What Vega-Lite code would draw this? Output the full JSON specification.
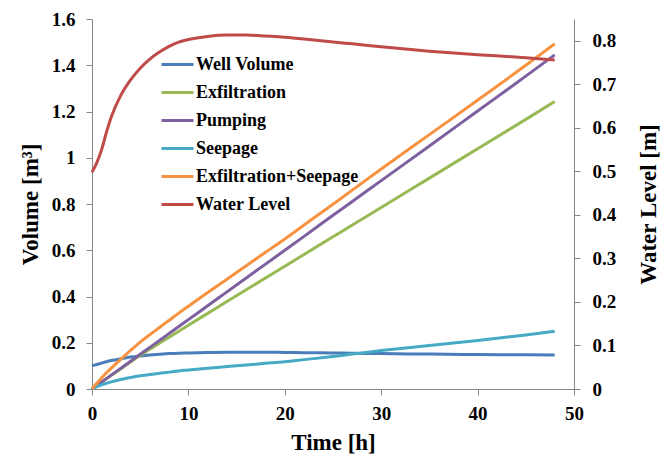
{
  "$schema": "https://vega.github.io/schema/vega-lite/v6.json",
  "width": 482,
  "height": 370,
  "autosize": {"type": "none"},
  "padding": {"left": 92, "top": 19, "right": 95, "bottom": 72},
  "background": "white",
  "config": {
    "view": {"stroke": null},
    "font": "Liberation Serif",
    "axis": {
      "grid": false,
      "domainColor": "#868686",
      "tickColor": "#868686",
      "tickSize": 6,
      "labelFont": "Liberation Serif",
      "labelFontWeight": "bold",
      "labelFontSize": 19,
      "labelColor": "black",
      "titleFont": "Liberation Serif",
      "titleFontWeight": "bold",
      "titleFontSize": 23,
      "titleColor": "black"
    },
    "legend": {
      "labelFont": "Liberation Serif",
      "labelFontWeight": "bold",
      "labelFontSize": 18,
      "labelColor": "black",
      "labelLimit": 400,
      "padding": 0
    }
  },
  "data": {
    "values": [
      {"t": 0, "Well Volume": 0.100, "Exfiltration": 0.000, "Pumping": 0.000, "Seepage": 0.000, "Exfiltration+Seepage": 0.000, "Water Level": 0.498},
      {"t": 0.5, "Well Volume": 0.106, "Exfiltration": 0.015, "Pumping": 0.015, "Seepage": 0.010, "Exfiltration+Seepage": 0.025, "Water Level": 0.520},
      {"t": 1, "Well Volume": 0.112, "Exfiltration": 0.030, "Pumping": 0.030, "Seepage": 0.018, "Exfiltration+Seepage": 0.048, "Water Level": 0.550},
      {"t": 1.5, "Well Volume": 0.118, "Exfiltration": 0.045, "Pumping": 0.045, "Seepage": 0.025, "Exfiltration+Seepage": 0.070, "Water Level": 0.590},
      {"t": 2, "Well Volume": 0.123, "Exfiltration": 0.059, "Pumping": 0.060, "Seepage": 0.031, "Exfiltration+Seepage": 0.090, "Water Level": 0.625},
      {"t": 3, "Well Volume": 0.131, "Exfiltration": 0.088, "Pumping": 0.090, "Seepage": 0.041, "Exfiltration+Seepage": 0.129, "Water Level": 0.675},
      {"t": 4, "Well Volume": 0.138, "Exfiltration": 0.117, "Pumping": 0.120, "Seepage": 0.050, "Exfiltration+Seepage": 0.167, "Water Level": 0.710},
      {"t": 5, "Well Volume": 0.143, "Exfiltration": 0.146, "Pumping": 0.150, "Seepage": 0.057, "Exfiltration+Seepage": 0.203, "Water Level": 0.737},
      {"t": 6, "Well Volume": 0.147, "Exfiltration": 0.172, "Pumping": 0.180, "Seepage": 0.063, "Exfiltration+Seepage": 0.235, "Water Level": 0.758},
      {"t": 7, "Well Volume": 0.150, "Exfiltration": 0.198, "Pumping": 0.210, "Seepage": 0.068, "Exfiltration+Seepage": 0.266, "Water Level": 0.774},
      {"t": 8, "Well Volume": 0.153, "Exfiltration": 0.224, "Pumping": 0.240, "Seepage": 0.073, "Exfiltration+Seepage": 0.297, "Water Level": 0.787},
      {"t": 9, "Well Volume": 0.155, "Exfiltration": 0.250, "Pumping": 0.270, "Seepage": 0.078, "Exfiltration+Seepage": 0.328, "Water Level": 0.797},
      {"t": 10, "Well Volume": 0.156, "Exfiltration": 0.276, "Pumping": 0.300, "Seepage": 0.082, "Exfiltration+Seepage": 0.358, "Water Level": 0.803},
      {"t": 12, "Well Volume": 0.158, "Exfiltration": 0.327, "Pumping": 0.360, "Seepage": 0.090, "Exfiltration+Seepage": 0.417, "Water Level": 0.810},
      {"t": 14, "Well Volume": 0.159, "Exfiltration": 0.378, "Pumping": 0.420, "Seepage": 0.097, "Exfiltration+Seepage": 0.475, "Water Level": 0.813},
      {"t": 16, "Well Volume": 0.159, "Exfiltration": 0.429, "Pumping": 0.480, "Seepage": 0.104, "Exfiltration+Seepage": 0.533, "Water Level": 0.813},
      {"t": 18, "Well Volume": 0.159, "Exfiltration": 0.480, "Pumping": 0.540, "Seepage": 0.111, "Exfiltration+Seepage": 0.591, "Water Level": 0.811},
      {"t": 20, "Well Volume": 0.158, "Exfiltration": 0.531, "Pumping": 0.600, "Seepage": 0.118, "Exfiltration+Seepage": 0.649, "Water Level": 0.808},
      {"t": 22, "Well Volume": 0.157, "Exfiltration": 0.582, "Pumping": 0.660, "Seepage": 0.127, "Exfiltration+Seepage": 0.709, "Water Level": 0.804},
      {"t": 25, "Well Volume": 0.156, "Exfiltration": 0.658, "Pumping": 0.751, "Seepage": 0.141, "Exfiltration+Seepage": 0.799, "Water Level": 0.797},
      {"t": 27, "Well Volume": 0.155, "Exfiltration": 0.709, "Pumping": 0.811, "Seepage": 0.151, "Exfiltration+Seepage": 0.860, "Water Level": 0.793},
      {"t": 30, "Well Volume": 0.153, "Exfiltration": 0.785, "Pumping": 0.901, "Seepage": 0.166, "Exfiltration+Seepage": 0.951, "Water Level": 0.786},
      {"t": 35, "Well Volume": 0.151, "Exfiltration": 0.912, "Pumping": 1.051, "Seepage": 0.188, "Exfiltration+Seepage": 1.100, "Water Level": 0.776},
      {"t": 40, "Well Volume": 0.149, "Exfiltration": 1.039, "Pumping": 1.202, "Seepage": 0.210, "Exfiltration+Seepage": 1.249, "Water Level": 0.768},
      {"t": 45, "Well Volume": 0.148, "Exfiltration": 1.166, "Pumping": 1.353, "Seepage": 0.234, "Exfiltration+Seepage": 1.400, "Water Level": 0.761},
      {"t": 48, "Well Volume": 0.147, "Exfiltration": 1.243, "Pumping": 1.445, "Seepage": 0.250, "Exfiltration+Seepage": 1.493, "Water Level": 0.756}
    ]
  },
  "layer": [
    {
      "transform": [
        {"fold": ["Well Volume", "Exfiltration", "Pumping", "Seepage", "Exfiltration+Seepage"], "as": ["series", "v"]}
      ],
      "mark": {"type": "line", "strokeWidth": 3, "interpolate": "monotone"},
      "encoding": {
        "x": {
          "field": "t", "type": "quantitative",
          "scale": {"domain": [0, 50], "nice": false},
          "axis": {"values": [0, 10, 20, 30, 40, 50], "title": "Time [h]", "labelFont": "Liberation Serif", "labelFontWeight": "bold", "labelFontSize": 19, "labelPadding": 9, "titlePadding": 8, "labelFlush": false}
        },
        "y": {
          "field": "v", "type": "quantitative",
          "scale": {"domain": [0, 1.6], "nice": false},
          "axis": {"orient": "left", "values": [0, 0.2, 0.4, 0.6, 0.8, 1, 1.2, 1.4, 1.6], "format": "~g", "title": "Volume [m³]", "labelFont": "Liberation Serif", "labelFontWeight": "bold", "labelFontSize": 19, "labelPadding": 11, "titlePadding": 9, "labelFlush": false}
        },
        "color": {
          "field": "series", "type": "nominal",
          "scale": {
            "domain": ["Well Volume", "Exfiltration", "Pumping", "Seepage", "Exfiltration+Seepage", "Water Level"],
            "range": ["#4A7EBB", "#98B954", "#7D60A0", "#46AAC5", "#F69240", "#BE4B48"]
          },
          "legend": {
            "title": null,
            "orient": "none",
            "legendX": 76,
            "legendY": 36,
            "symbolType": "M-2,0H2",
            "symbolSize": 256,
            "symbolStrokeWidth": 3,
            "labelOffset": 9,
            "labelLimit": 400,
            "rowPadding": 9
          }
        }
      }
    },
    {
      "transform": [
        {"fold": ["Water Level"], "as": ["series", "w"]}
      ],
      "mark": {"type": "line", "strokeWidth": 3, "interpolate": "monotone"},
      "encoding": {
        "x": {"field": "t", "type": "quantitative"},
        "y": {
          "field": "w", "type": "quantitative",
          "scale": {"domain": [0, 0.85], "nice": false},
          "axis": {"orient": "right", "values": [0, 0.1, 0.2, 0.3, 0.4, 0.5, 0.6, 0.7, 0.8], "format": "~g", "title": "Water Level [m]", "titleAngle": 270, "titleBaseline": "top", "labelFont": "Liberation Serif", "labelFontWeight": "bold", "labelFontSize": 19, "labelPadding": 12, "titlePadding": 22, "labelFlush": false}
        },
        "color": {"field": "series", "type": "nominal"}
      }
    }
  ],
  "resolve": {"scale": {"y": "independent"}}
}
